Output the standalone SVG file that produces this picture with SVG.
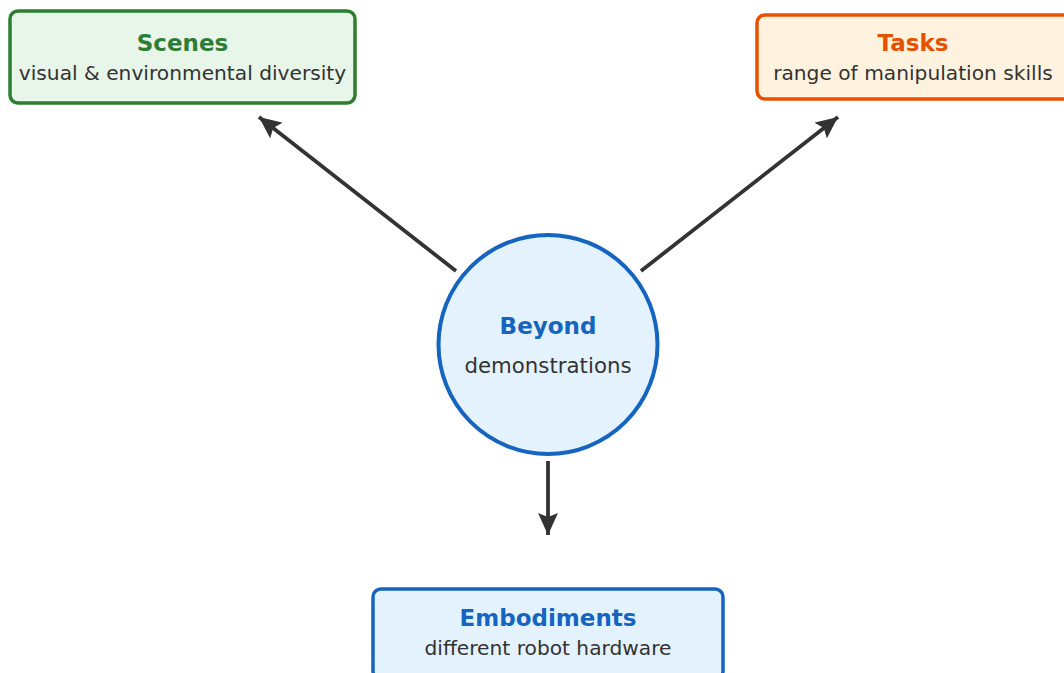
<svg xmlns="http://www.w3.org/2000/svg" width="1064" height="673" viewBox="0 0 1064 673">
<style>
.t{font-family:"DejaVu Sans",sans-serif;text-anchor:middle}
.b{font-weight:bold;font-size:23px}
.s{font-size:20.2px;fill:#333333}
.c{stroke:#333333;stroke-width:3.8;fill:none;marker-end:url(#ah)}
</style>
<defs>
<marker id="ah" markerUnits="userSpaceOnUse" viewBox="0 0 22 20" refX="22" refY="10" markerWidth="22" markerHeight="20" orient="auto">
<path d="M0,0 L22,10 L0,20 L4,10 Z" fill="#333333"/>
</marker>
</defs>
<rect width="1064" height="673" fill="#ffffff"/>
<g id="connectors">
<line class="c" x1="456" y1="271" x2="259" y2="117"/>
<line class="c" x1="641" y1="271" x2="838" y2="117"/>
<line class="c" x1="548" y1="461" x2="548" y2="535"/>
</g>
<g id="scenes">
<rect x="10" y="11" width="345" height="92" rx="8" fill="#e8f5e9" stroke="#2e7d32" stroke-width="3.5"/>
<text class="t b" x="182.5" y="51" fill="#2e7d32">Scenes</text>
<text class="t s" x="182.5" y="80">visual &amp; environmental diversity</text>
</g>
<g id="tasks">
<rect x="757" y="15" width="340" height="84" rx="8" fill="#fff3e0" stroke="#e65100" stroke-width="3.5"/>
<text class="t b" x="913" y="51" fill="#e65100">Tasks</text>
<text class="t s" x="913" y="80">range of manipulation skills</text>
</g>
<g id="center">
<circle cx="548" cy="344.5" r="109.5" fill="#e3f2fd" stroke="#1565c0" stroke-width="4"/>
<text class="t b" x="548" y="334" fill="#1565c0">Beyond</text>
<text class="t" x="548" y="373" font-size="21.3" fill="#333333">demonstrations</text>
</g>
<g id="embodiments">
<rect x="373" y="589" width="350" height="90" rx="8" fill="#e3f2fd" stroke="#1565c0" stroke-width="3.5"/>
<text class="t b" x="548" y="626" fill="#1565c0">Embodiments</text>
<text class="t s" x="548" y="655">different robot hardware</text>
</g>
</svg>
